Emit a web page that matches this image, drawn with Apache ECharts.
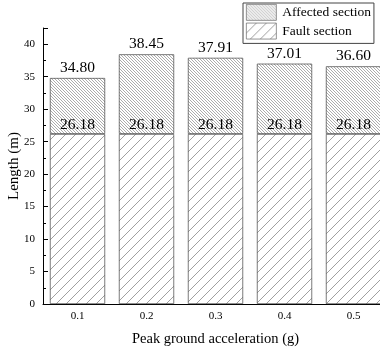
<!DOCTYPE html>
<html><head><meta charset="utf-8">
<script src="https://cdn.jsdelivr.net/npm/echarts@6/dist/echarts.min.js"></script>
<style>html,body{margin:0;padding:0;background:#fff}#c{width:380px;height:348px}</style>
</head><body><div id="c"></div>
<script>
var categories = ['0.1', '0.2', '0.3', '0.4', '0.5'];
var totalLength = [34.80, 38.45, 37.91, 37.01, 36.60];
var faultLength = [26.18, 26.18, 26.18, 26.18, 26.18];
var seriesNames = ['Affected section', 'Fault section'];

function hatch(size, step, dir, color, lw) {
  var c = document.createElement('canvas');
  c.width = size; c.height = size;
  var g = c.getContext('2d');
  g.fillStyle = '#fff'; g.fillRect(0, 0, size, size);
  g.strokeStyle = color; g.lineWidth = lw;
  g.beginPath();
  for (var k = -size; k <= 2 * size; k += step) {
    if (dir > 0) { g.moveTo(k, size); g.lineTo(k + size, 0); }
    else { g.moveTo(k, 0); g.lineTo(k + size, size); }
  }
  g.stroke();
  return c;
}
var affPat = { image: hatch(12, 3, -1, '#888', 0.7), repeat: 'repeat' };
var faultPat = { image: hatch(40, 10, 1, '#777', 0.7), repeat: 'repeat' };

var extra = totalLength.map(function (v, i) { return +(v - faultLength[i]).toFixed(2); });
var font = 'Liberation Serif';

var chart = echarts.init(document.getElementById('c'), null, { renderer: 'canvas' });
chart.setOption({
  animation: false,
  textStyle: { fontFamily: font, color: '#000' },
  grid: { left: 43, top: 28, width: 345, bottom: 44, outerBoundsMode: 'none', containLabel: false },
  legend: {
    orient: 'vertical', left: 243, top: 3,
    icon: 'rect',
    data: [
      { name: seriesNames[0], icon: 'rect', itemStyle: { color: affPat, borderColor: '#666', borderWidth: 0.7 } },
      { name: seriesNames[1], icon: 'rect', itemStyle: { color: faultPat, borderColor: '#666', borderWidth: 0.7 } }
    ],
    itemWidth: 30, itemHeight: 16, itemGap: 2,
    padding: [1, 3, 4, 3],
    borderColor: '#444', borderWidth: 1,
    textStyle: { fontFamily: font, fontSize: 13.5, color: '#000', padding: [0, 0, 0, 1] }
  },
  xAxis: {
    type: 'category', data: categories,
    name: 'Peak ground acceleration (g)', nameLocation: 'middle', nameGap: 28, nameMoveOverlap: false,
    nameTextStyle: { fontFamily: font, fontSize: 14.5, color: '#000' },
    axisLine: { lineStyle: { color: '#000', width: 1 } },
    axisTick: { alignWithLabel: true, inside: true, length: 4, lineStyle: { color: '#000' } },
    axisLabel: { fontFamily: font, fontSize: 11, color: '#000', margin: 7 }
  },
  yAxis: {
    type: 'value', min: 0, max: 42.5, interval: 5,
    name: 'Length (m)', nameLocation: 'middle', nameGap: 21, nameMoveOverlap: false,
    nameTextStyle: { fontFamily: font, fontSize: 15, color: '#000' },
    axisLine: { show: true, lineStyle: { color: '#000', width: 1 } },
    axisTick: { show: true, inside: true, length: 5, lineStyle: { color: '#000' } },
    minorTick: { show: true, splitNumber: 2, length: 3, lineStyle: { color: '#000' } },
    axisLabel: { fontFamily: font, fontSize: 11, color: '#000', margin: 8, showMaxLabel: false },
    splitLine: { show: false }
  },
  series: [
    {
      name: seriesNames[1], type: 'bar', stack: 's', data: faultLength, barWidth: '80%',
      itemStyle: { color: faultPat, borderColor: '#444', borderWidth: 0.7 },
      label: { show: true, position: 'top', distance: 1, fontFamily: font, fontSize: 15.5, color: '#000',
        formatter: function (p) { return faultLength[p.dataIndex].toFixed(2); } },
      z: 3
    },
    {
      name: seriesNames[0], type: 'bar', stack: 's', data: extra, barWidth: '80%',
      itemStyle: { color: affPat, borderColor: '#444', borderWidth: 0.7 },
      label: { show: true, position: 'top', distance: 2, fontFamily: font, fontSize: 15.5, color: '#000',
        formatter: function (p) { return totalLength[p.dataIndex].toFixed(2); } },
      z: 2
    }
  ]
});
</script></body></html>
